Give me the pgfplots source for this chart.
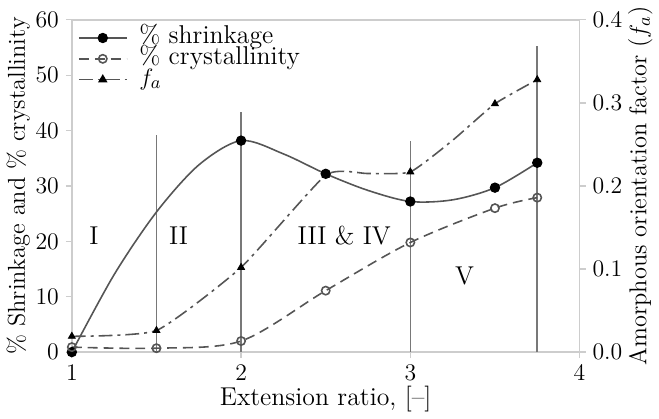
\documentclass[border=0pt]{standalone}
\usepackage{pgfplots}
\pgfplotsset{compat=1.18}
\definecolor{lin}{RGB}{85,85,85}
\definecolor{vline}{RGB}{120,120,120}
\definecolor{frame}{RGB}{205,205,205}
\begin{document}
\begin{tikzpicture}[font=\fontsize{13}{14}\selectfont]
\pgfplotsset{
  every axis/.append style={
    scale only axis, width=256pt, height=167.5pt,
    xmin=1, xmax=4,
    axis line style={draw=frame, line width=0.8pt},
    every tick/.style={draw=frame, line width=0.6pt},
    tick align=outside, major tick length=3pt,
    tick label style={font=\fontsize{13}{14}\selectfont, black},
    label style={font=\fontsize{12.3}{14}\selectfont},
  },
  legend image code/.code={
    \draw[mark=none] (0pt,0pt) -- (24pt,0pt);
    \draw plot coordinates {(12pt,0pt)};
  },
}
\begin{axis}[
  axis x line*=box, axis y line*=box,
  ymin=0, ymax=60, ytick={0,10,...,60},
  xtick={1,2,3,4}, xtick pos=bottom, ytick pos=left,
  xlabel={Extension ratio, [--]},
  ylabel={\% Shrinkage and \% crystallinity},
  xlabel style={yshift=4pt, font=\fontsize{13}{14}\selectfont},
  ylabel style={yshift=-4pt},
  legend style={at={(0.0,0.99)}, anchor=north west, draw=none, fill=none,
    nodes={inner sep=0.5pt, text height=7.5pt, text depth=2pt}, row sep=0pt,
    column sep=5.5pt, font=\fontsize{13}{14}\selectfont},
  legend cell align=left,
]
% lignes de séparation des zones
\addplot[vline, line width=0.8pt, forget plot] coordinates {(1.5,0) (1.5,39.3)};
\addplot[vline, line width=0.8pt, forget plot] coordinates {(2,0) (2,43.4)};
\addplot[vline, line width=0.8pt, forget plot] coordinates {(3,0) (3,38.2)};
\addplot[vline, line width=0.8pt, forget plot] coordinates {(3.75,0) (3.75,55.3)};
% retrait : courbe lue sur la figure, puis les points mesurés
\addplot[lin, line width=0.8pt, smooth, forget plot] coordinates {
  (1,0) (1.25,14) (1.5,25.3) (1.75,33.8) (2,38.2) (2.25,35.8) (2.5,32.2)
  (2.75,29.2) (3,27.2) (3.25,27.5) (3.5,29.7) (3.75,34.2)
};
\addplot[lin, line width=0.8pt, only marks, mark=*, mark size=2.2pt,
  mark options={fill=black, draw=black}] coordinates {
  (1,0) (2,38.2) (2.5,32.2) (3,27.2) (3.5,29.7) (3.75,34.2)
};
\addlegendentry{\% shrinkage}
% cristallinité
\addplot[lin, line width=0.8pt, smooth, dash pattern=on 5pt off 3pt,
  mark=o, mark size=2.1pt, mark options={solid, fill=white, draw=lin}] coordinates {
  (1,0.9) (1.5,0.7) (2,2) (2.5,11.1) (3,19.8) (3.5,26) (3.75,27.9)
};
\addlegendentry{\% crystallinity}
\addlegendimage{lin, line width=0.8pt, dash pattern=on 7pt off 2.5pt on 1.5pt off 2.5pt,
  mark=triangle*, mark size=2pt, mark options={solid, fill=black, draw=black}}
\addlegendentry{$f_a$}
\node at (axis cs:1.13,21) {I};
\node at (axis cs:1.63,21) {II};
\node at (axis cs:2.61,21) {III \& IV};
\node at (axis cs:3.32,13.8) {V};
\end{axis}
\begin{axis}[
  ymin=0, ymax=0.4, ytick={0,0.1,...,0.4},
  axis y line*=right, axis x line=none,
  yticklabel style={/pgf/number format/.cd, fixed, fixed zerofill, precision=1},
  ylabel={Amorphous orientation factor ($f_a$)},
  ylabel style={yshift=4pt},
]
% courbe lue sur la figure, puis les points mesurés
\addplot[lin, line width=0.8pt, smooth, tension=0.3,
  dash pattern=on 7pt off 2.5pt on 1.5pt off 2.5pt] coordinates {
  (1,0.019) (1.5,0.026) (2,0.102) (2.5,0.213) (2.75,0.215) (3,0.217)
  (3.25,0.255) (3.5,0.299) (3.75,0.328)
};
\addplot[only marks, mark=triangle*, mark size=2pt,
  mark options={fill=black, draw=black}] coordinates {
  (1,0.019) (1.5,0.026) (2,0.102) (2.5,0.213) (3,0.217) (3.5,0.299) (3.75,0.328)
};
\end{axis}
\end{tikzpicture}
\end{document}
